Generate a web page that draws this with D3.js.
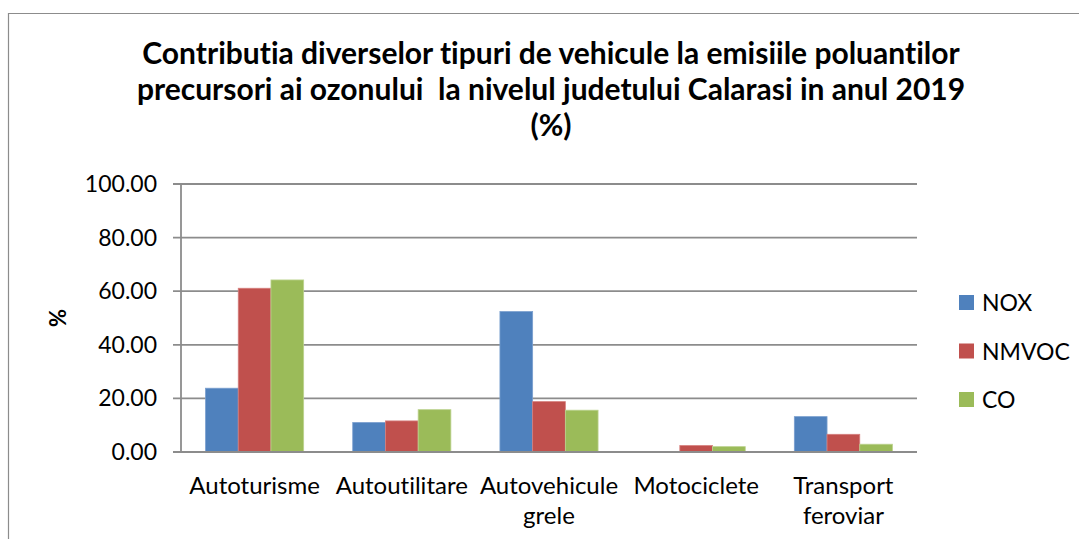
<!DOCTYPE html>
<html lang="ro">
<head>
    <meta charset="utf-8">
    <title>Contributia diverselor tipuri de vehicule</title>
    <script src="https://d3js.org/d3.v7.min.js"></script>
    <style>
        body { margin: 0; background: #fff; }
        svg text { font-family: Lato, "Open Sans", sans-serif; fill: #000; }
        .title { font-weight: bold; font-size: 30px; text-anchor: middle; white-space: pre; font-variant-ligatures: none; }
        .tick-label { font-size: 23px; }
        .cat-label { font-size: 24px; text-anchor: middle; font-variant-ligatures: none; }
        .legend-label { font-size: 23px; }
    </style>
</head>
<body>
<div id="chart"></div>
<script>
    // chart data
    var categories = [["Autoturisme"], ["Autoutilitare"], ["Autovehicule", "grele"], ["Motociclete"], ["Transport", "feroviar"]];
    var seriesNames = ["NOX", "NMVOC", "CO"];
    var nox = [23.8, 11.0, 52.4, 0, 13.2];
    var nmvoc = [61.1, 11.6, 18.8, 2.4, 6.6];
    var co = [64.2, 15.8, 15.6, 2.0, 2.9];
    var yTicks = [0, 20, 40, 60, 80, 100];
    var titleLines = ["Contributia diverselor tipuri de vehicule la emisiile poluantilor",
        "precursori ai ozonului  la nivelul judetului Calarasi in anul 2019",
        "(%)"];

    var seriesValues = [nox, nmvoc, co];
    var colors = ["#4F81BD", "#C0504D", "#9BBB59"];
    var strokes = ["#7a9fcf", "#d67f7d", "#bcd38f"];

    var w = 1079, h = 539;
    var plotLeft = 181, plotRight = 917, plotTop = 184, plotBottom = 452;

    var svg = d3.select("#chart").append("svg")
        .attr("width", w)
        .attr("height", h);

    // outer chart border (cropped at right and bottom)
    svg.append("path")
        .attr("d", "M8.5," + h + " L8.5,13.5 L" + w + ",13.5")
        .attr("fill", "none")
        .attr("stroke", "#8c8c8c")
        .attr("stroke-width", 1.2);

    // title
    svg.selectAll(".title")
        .data(titleLines)
        .enter()
        .append("text")
        .attr("class", "title")
        .attr("x", 551)
        .attr("y", function (d, i) { return 64 + i * 36; })
        .text(function (d) { return d; });

    var x0 = d3.scaleBand()
        .domain(d3.range(categories.length))
        .range([plotLeft, plotRight])
        .paddingInner(0)
        .paddingOuter(0);

    // bars take 3 of 4.5 slots in a group
    var x1 = d3.scaleBand()
        .domain(d3.range(seriesNames.length))
        .range([x0.bandwidth() * 0.75 / 4.5, x0.bandwidth() * (0.75 + 3) / 4.5]);

    var y = d3.scaleLinear()
        .domain([0, 100])
        .range([plotBottom, plotTop]);

    // gridlines
    svg.selectAll(".grid")
        .data(yTicks)
        .enter()
        .append("line")
        .attr("x1", plotLeft - 8)
        .attr("x2", plotRight)
        .attr("y1", function (d) { return y(d); })
        .attr("y2", function (d) { return y(d); })
        .attr("stroke", "#8c8c8c")
        .attr("stroke-width", 1.8);

    // y axis line
    svg.append("line")
        .attr("x1", plotLeft)
        .attr("x2", plotLeft)
        .attr("y1", plotTop)
        .attr("y2", plotBottom)
        .attr("stroke", "#8c8c8c")
        .attr("stroke-width", 1.8);

    // y tick labels
    svg.selectAll(".tick-label")
        .data(yTicks)
        .enter()
        .append("text")
        .attr("class", "tick-label")
        .attr("x", 157)
        .attr("y", function (d) { return y(d) + 8; })
        .attr("text-anchor", "end")
        .text(function (d) { return d3.format(".2f")(d); });

    // y axis title
    svg.append("text")
        .attr("transform", "translate(66,318) rotate(-90)")
        .attr("text-anchor", "middle")
        .style("font-weight", "bold")
        .style("font-size", "22px")
        .text("%");

    // bars
    var groups = svg.selectAll(".group")
        .data(categories)
        .enter()
        .append("g")
        .attr("transform", function (d, i) { return "translate(" + x0(i) + ",0)"; });

    groups.selectAll("rect")
        .data(function (d, i) {
            return seriesValues.map(function (s, j) { return { s: j, v: s[i] }; });
        })
        .enter()
        .filter(function (d) { return d.v > 0; })
        .append("rect")
        .attr("x", function (d) { return x1(d.s); })
        .attr("width", x1.bandwidth())
        .attr("y", function (d) { return y(d.v); })
        .attr("height", function (d) { return plotBottom - y(d.v); })
        .attr("fill", function (d) { return colors[d.s]; })
        .attr("stroke", function (d) { return strokes[d.s]; })
        .attr("stroke-width", 0.8);

    // redraw baseline over bars
    svg.append("line")
        .attr("x1", plotLeft - 8)
        .attr("x2", plotRight)
        .attr("y1", plotBottom)
        .attr("y2", plotBottom)
        .attr("stroke", "#8c8c8c")
        .attr("stroke-width", 1.8);

    // category labels
    groups.append("text")
        .attr("class", "cat-label")
        .attr("x", x0.bandwidth() / 2)
        .attr("y", 494)
        .selectAll("tspan")
        .data(function (d) { return d; })
        .enter()
        .append("tspan")
        .attr("x", x0.bandwidth() / 2)
        .attr("dy", function (d, i) { return i === 0 ? 0 : 30; })
        .text(function (d) { return d; });

    // legend
    var legend = svg.selectAll(".legend")
        .data(seriesNames)
        .enter()
        .append("g")
        .attr("transform", function (d, i) { return "translate(959," + (303 + i * 48.5) + ")"; });

    legend.append("rect")
        .attr("x", 0)
        .attr("y", -8)
        .attr("width", 15)
        .attr("height", 15)
        .attr("fill", function (d, i) { return colors[i]; });

    legend.append("text")
        .attr("class", "legend-label")
        .attr("x", 23)
        .attr("y", 8)
        .text(function (d) { return d; });
</script>
</body>
</html>
